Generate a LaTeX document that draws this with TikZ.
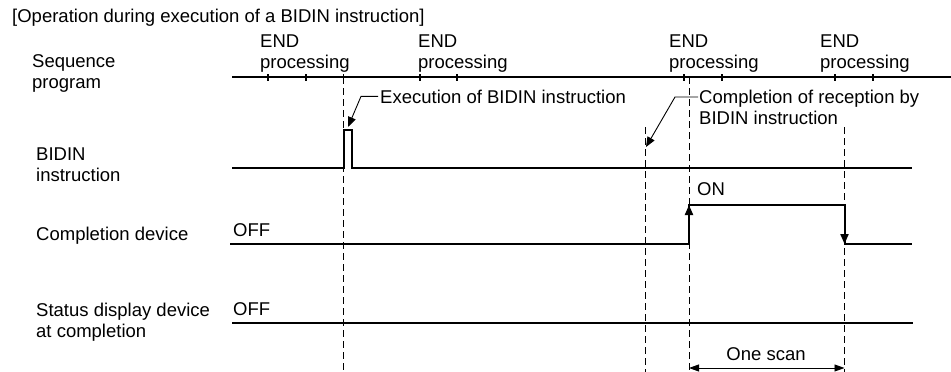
\documentclass[tikz,border=0pt]{standalone}
\usepackage{fontspec}
\setmainfont{Liberation Sans}
\usetikzlibrary{arrows.meta}
\begin{document}
\begin{tikzpicture}[x=1pt,y=-1pt,
  lbl/.style={anchor=base west, inner sep=0pt, font=\fontsize{18.5}{21}\selectfont},
  sig/.style={line width=2pt, line join=miter},
  tick/.style={line width=1.6pt},
  leader/.style={line width=0.9pt},
  vdash/.style={line width=0.9pt, dash pattern=on 7pt off 4pt},
  tipA/.style={-{Triangle[length=10pt,width=8pt]}},
  tipB/.style={{Triangle[length=10pt,width=7pt]}-{Triangle[length=10pt,width=7pt]}}]
\useasboundingbox (0,0) rectangle (951,372);

% texts
\node[lbl] (title) at (12,23) {[Operation during execution of a BIDIN instruction]};
\node[lbl] (end1) at (260,47) {END};
\node[lbl] (proc1) at (260,68) {processing};
\node[lbl] (end2) at (418,47) {END};
\node[lbl] (proc2) at (418,68) {processing};
\node[lbl] (end3) at (669,47) {END};
\node[lbl] (proc3) at (669,68) {processing};
\node[lbl] (end4) at (820,47) {END};
\node[lbl] (proc4) at (820,68) {processing};
\node[lbl] (seq1) at (32,67) {Sequence};
\node[lbl] (seq2) at (32,88) {program};
\node[lbl] (bid1) at (36,160) {BIDIN};
\node[lbl] (bid2) at (36,181) {instruction};
\node[lbl] (cdev) at (36,240) {Completion device};
\node[lbl] (sdev1) at (36,316) {Status display device};
\node[lbl] (sdev2) at (36,337) {at completion};
\node[lbl] (off1) at (233,236) {OFF};
\node[lbl] (off2) at (233,315) {OFF};
\node[lbl] (on) at (697,195) {ON};
\node[lbl] (exec) at (380,103) {Execution of BIDIN instruction};
\node[lbl] (comp1) at (699,103) {Completion of reception by};
\node[lbl] (comp2) at (699,124) {BIDIN instruction};
\node[lbl, anchor=base] (scan) at (766,360) {One scan};

% key coordinates
\coordinate (tA) at (343.5,77);
\coordinate (tB) at (645,127);
\coordinate (tC) at (689,77);
\coordinate (tD) at (844.5,127);
\coordinate (execTip) at (348,127);
\coordinate (compTip) at (646,147);

% dashed time markers
\draw[vdash] (tA) -- (343.5,372);
\draw[vdash] (tB) -- (645,372);
\draw[vdash] (tC) -- (689,372);
\draw[vdash] (tD) -- (844.5,372);

% sequence program line
\draw[sig] (232,77) -- (951,77);
\foreach \x in {268,306,343.5,420,457,684,722,835,873}
  \draw[tick] (\x,74) -- (\x,81);

% BIDIN instruction
\draw[sig] (232,168) -- (343.5,168) -- (343.5,130) -- (352,130) -- (352,168) -- (912,168);

% completion device
\draw[sig] (230,244) -- (689,244) -- (689,205) -- (844.5,205) -- (844.5,244) -- (912,244);
\draw[line width=2pt, tipA] (689,228) -- (689,205);
\draw[line width=2pt, tipA] (844.5,222) -- (844.5,244);

% status display device
\draw[sig] (232,323) -- (913,323);

% leaders
\draw[leader, tipA] ([xshift=-2pt]exec.west) -- ++(-17,0) -- (execTip);
\draw[leader, tipA] ([shift={(-1,-6)}]comp1.base west) -- ++(-23,0) -- (compTip);

% one scan
\draw[leader, tipB] (689,368) -- (844.5,368);
\end{tikzpicture}
\end{document}
